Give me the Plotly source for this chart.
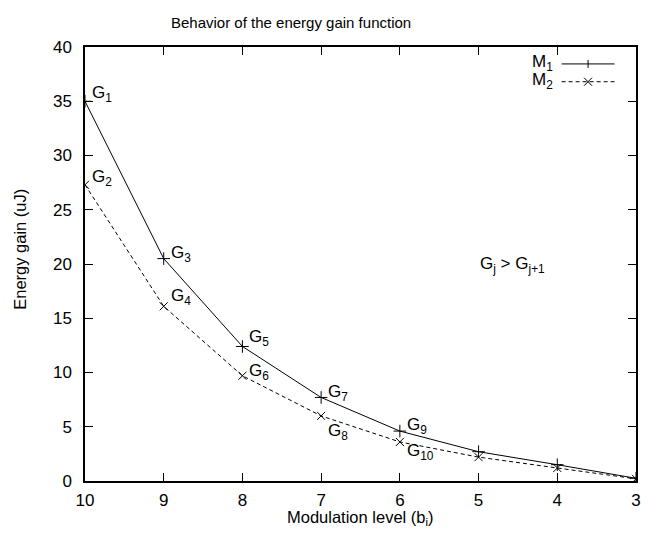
import plotly.graph_objects as go

# Modulation levels and energy gain (uJ) for the two schemes
levels = [10, 9, 8, 7, 6, 5, 4, 3]
gain_m1 = [35.0, 20.5, 12.4, 7.7, 4.6, 2.7, 1.5, 0.25]
gain_m2 = [27.3, 16.1, 9.7, 6.0, 3.6, 2.2, 1.2, 0.2]

# Point labels and their vertical shifts (px)
labels_m1 = ["G<sub>1</sub>", "G<sub>3</sub>", "G<sub>5</sub>", "G<sub>7</sub>", "G<sub>9</sub>"]
labels_m2 = ["G<sub>2</sub>", "G<sub>4</sub>", "G<sub>6</sub>", "G<sub>8</sub>", "G<sub>10</sub>"]
shifts_m1 = [7, 5, 8, 4, 5]
shifts_m2 = [7, 9, 4, -16, -10]

FONT = "Liberation Sans, Arial, sans-serif"
LABEL_SIZE = 17
TITLE_SIZE = 16.5

fig = go.Figure()
fig.add_trace(go.Scatter(
    x=levels, y=gain_m1, mode="lines+markers", name="M1",
    line=dict(color="black", width=1),
    marker=dict(symbol="cross-thin", size=9, line=dict(color="black", width=1)),
    showlegend=False,
))
fig.add_trace(go.Scatter(
    x=levels, y=gain_m2, mode="lines+markers", name="M2",
    line=dict(color="black", width=1, dash="4px,3px"),
    marker=dict(symbol="x-thin", size=8, line=dict(color="black", width=1)),
    showlegend=False,
))

annotations = []
for lab, xv, yv, sh in zip(labels_m1, levels, gain_m1, shifts_m1):
    annotations.append(dict(x=xv, y=yv, text=lab, showarrow=False, xanchor="left",
                            yanchor="middle", xshift=5, yshift=sh,
                            font=dict(family=FONT, size=LABEL_SIZE, color="black")))
for lab, xv, yv, sh in zip(labels_m2, levels, gain_m2, shifts_m2):
    annotations.append(dict(x=xv, y=yv, text=lab, showarrow=False, xanchor="left",
                            yanchor="middle", xshift=5, yshift=sh,
                            font=dict(family=FONT, size=LABEL_SIZE, color="black")))

# Relation note
annotations.append(dict(x=0.714, y=0.498, xref="paper", yref="paper", xanchor="left",
                        text="G<sub>j</sub> > G<sub>j+1</sub>", showarrow=False,
                        font=dict(family=FONT, size=LABEL_SIZE, color="black")))

# Title
annotations.append(dict(x=0.374, y=1.0, xref="paper", yref="paper", yanchor="bottom",
                        yshift=14, text="Behavior of the energy gain function",
                        showarrow=False, font=dict(family=FONT, size=15, color="black")))

# Axis titles
annotations.append(dict(x=0.5, y=-0.057, xref="paper", yref="paper", yanchor="top",
                        text="Modulation level (b<sub>i</sub>)", showarrow=False,
                        font=dict(family=FONT, size=TITLE_SIZE, color="black")))
annotations.append(dict(x=-0.118, y=0.535, xref="paper", yref="paper", textangle=-90,
                        xanchor="center", yanchor="middle",
                        text="Energy gain (uJ)", showarrow=False,
                        font=dict(family=FONT, size=TITLE_SIZE, color="black")))

# Key in the upper right corner
shapes = []
key_rows = [("M<sub>1</sub>", 0.961, "solid", "cross"), ("M<sub>2</sub>", 0.920, "dash", "x")]
for text, ky, dash, mk in key_rows:
    annotations.append(dict(x=0.853, y=ky, xref="paper", yref="paper", xanchor="right",
                            yanchor="middle", text=text, showarrow=False, yshift=1,
                            font=dict(family=FONT, size=LABEL_SIZE, color="black")))
    shapes.append(dict(type="line", xref="paper", yref="paper", x0=0.865, x1=0.961,
                       y0=ky, y1=ky, line=dict(color="black", width=1,
                                               dash="solid" if dash == "solid" else "4px,3px")))
    cx, cy = 0.913, ky
    dx, dy = 4 / 556, 4 / 434
    if mk == "cross":
        shapes.append(dict(type="line", xref="paper", yref="paper", x0=cx, x1=cx,
                           y0=cy - dy, y1=cy + dy, line=dict(color="black", width=1)))
    else:
        shapes.append(dict(type="line", xref="paper", yref="paper", x0=cx - dx, x1=cx + dx,
                           y0=cy - dy, y1=cy + dy, line=dict(color="black", width=1)))
        shapes.append(dict(type="line", xref="paper", yref="paper", x0=cx - dx, x1=cx + dx,
                           y0=cy + dy, y1=cy - dy, line=dict(color="black", width=1)))

fig.update_layout(
    width=648, height=533,
    margin=dict(l=85, r=7, t=47, b=52),
    paper_bgcolor="white", plot_bgcolor="white",
    font=dict(family=FONT, size=15, color="black"),
    annotations=annotations, shapes=shapes,
    xaxis=dict(
        range=[10, 3], tickvals=levels, ticktext=[str(v) for v in levels],
        ticks="inside", ticklen=8, tickwidth=1, tickcolor="black",
        showline=True, linecolor="black", linewidth=1.5, mirror="ticks",
        showgrid=False, zeroline=False, tickfont=dict(size=17, family=FONT),
        ticklabelstandoff=3,
    ),
    yaxis=dict(
        range=[0, 40], tickvals=[0, 5, 10, 15, 20, 25, 30, 35, 40],
        ticks="inside", ticklen=8, tickwidth=1, tickcolor="black",
        showline=True, linecolor="black", linewidth=1.5, mirror="ticks",
        showgrid=False, zeroline=False, tickfont=dict(size=17, family=FONT),
        ticklabelstandoff=8,
    ),
)

fig.write_html("out.html")
